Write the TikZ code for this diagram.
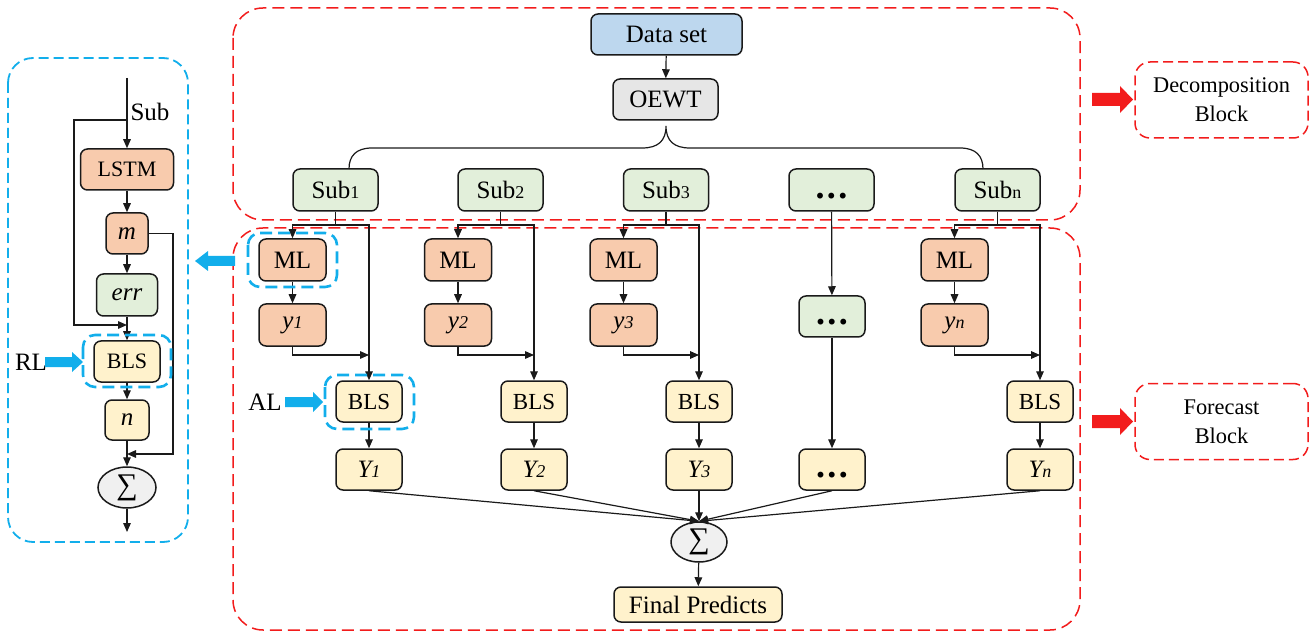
\documentclass[tikz,border=0pt]{standalone}
\usepackage{fontspec}
\setmainfont{LiberationSerif}[Extension=.ttf, UprightFont=*-Regular, ItalicFont=*-Italic, BoldFont=*-Bold, BoldItalicFont=*-BoldItalic]
\usetikzlibrary{arrows.meta,shapes.geometric}
\definecolor{cOr}{HTML}{F8CBAD}
\definecolor{cGreen}{HTML}{E2EFDA}
\definecolor{cYel}{HTML}{FFF2CC}
\definecolor{cBlue}{HTML}{BDD7EE}
\definecolor{cGray}{HTML}{E6E6E6}
\definecolor{cSum}{HTML}{F0F0F0}
\definecolor{cRed}{HTML}{F21C1C}
\definecolor{cCyan}{HTML}{12AEEB}
\definecolor{cLine}{HTML}{1A1A1A}
\newcommand\myfs[1]{\fontsize{#1}{#1}\selectfont}
\newcommand\sbs[1]{{\fontsize{9}{9}\selectfont #1}}
\newcommand\bdots{{\vphantom{Sub}\myfs{18}\bfseries .\hspace{1.2pt}.\hspace{1.2pt}.}}
\begin{document}
\begin{tikzpicture}[x=0.5pt,y=-0.5pt,
  box/.style={draw=cLine, line width=0.75pt, rounded corners=3.5pt, inner sep=0pt, align=center, font=\myfs{12.5}},
  subbox/.style={box, fill=cGreen, minimum width=42.5pt, minimum height=21pt},
  mlbox/.style={box, fill=cOr, minimum width=33.5pt, minimum height=21pt},
  blsbox/.style={box, fill=cYel, minimum width=33pt, minimum height=20.5pt, font=\myfs{11.5}},
  ybox/.style={box, fill=cYel, minimum width=33pt, minimum height=20.5pt},
  sumnode/.style={ellipse, draw=cLine, line width=0.75pt, fill=cSum, inner sep=0pt, font=\myfs{15}},
  conn/.style={draw=cLine, line width=0.6pt},
  arr/.style={conn, -{Triangle[length=4.5pt,width=3.8pt]}},
  reddash/.style={draw=cRed, line width=0.75pt, dash pattern=on 6pt off 3pt},
  bluedash/.style={draw=cCyan, line width=1.3pt, dash pattern=on 6pt off 3pt},
  lblbox/.style={draw=cRed, line width=0.75pt, dash pattern=on 5pt off 2.5pt, rounded corners=7.5pt, align=center, inner sep=0pt, minimum width=86.5pt, minimum height=38pt, font=\fontsize{11.2}{14.5}\selectfont},
  plain/.style={inner sep=0pt, font=\myfs{12.5}}
]
\useasboundingbox (0,0) rectangle (1312,636);

% ---------- frames ----------
\draw[reddash, rounded corners=15pt] (233,8) rectangle (1080,220);
\draw[reddash, rounded corners=15pt] (233,228) rectangle (1080,630);
\draw[draw=cCyan, line width=0.9pt, dash pattern=on 5pt off 2.5pt, rounded corners=12.5pt] (8,58) rectangle (188,542);

% ---------- decomposition block ----------
\node[box, fill=cBlue, minimum width=75.5pt, minimum height=20.5pt] (data) at (666.5,34.5) {Data set};
\node[box, fill=cGray, minimum width=52.5pt, minimum height=20.5pt] (oewt) at (665.5,99.5) {OEWT};
\draw[arr] (data) -- (oewt);

\node[subbox] (s1) at (335.5,190) {Sub\sbs{1}};
\node[subbox] (s2) at (500.5,190) {Sub\sbs{2}};
\node[subbox] (s3) at (666,190) {Sub\sbs{3}};
\node[subbox] (s4) at (831.5,190) {\bdots};
\node[subbox] (s5) at (997.5,190) {Sub\sbs{n}};

% brace
\coordinate (brL) at (349,169);
\coordinate (brT) at (666,126);
\coordinate (brR) at (983,169);
\draw[conn] (brL) .. controls (349,156) and (356,148) .. (372,148) -- (642,148)
  .. controls (658,148) and (666,141) .. (brT)
  .. controls (666,141) and (674,148) .. (690,148) -- (960,148)
  .. controls (976,148) and (983,156) .. (brR);

% ---------- forecast block ----------
\node[mlbox] (ml1) at (292.5,260) {ML};
\node[mlbox] (ml2) at (458,260) {ML};
\node[mlbox] (ml3) at (623.5,260) {ML};
\node[mlbox] (ml5) at (954.5,260) {ML};

\node[mlbox] (y1) at (292.5,325) {\textit{y\sbs{1}}};
\node[mlbox] (y2) at (458,325) {\textit{y\sbs{2}}};
\node[mlbox] (y3) at (623.5,325) {\textit{y\sbs{3}}};
\node[mlbox] (y5) at (954.5,325) {\textit{y\sbs{n}}};

\node[box, fill=cGreen, minimum width=33pt, minimum height=20.5pt] (dm) at (832,316.5) {\bdots};

\node[blsbox] (b1) at (369,401.5) {BLS};
\node[blsbox] (b2) at (534,401.5) {BLS};
\node[blsbox] (b3) at (699,401.5) {BLS};
\node[blsbox] (b5) at (1040,401.5) {BLS};

\node[ybox] (Y1) at (369,469.5) {\textit{Y\sbs{1}}};
\node[ybox] (Y2) at (534,469.5) {\textit{Y\sbs{2}}};
\node[ybox] (Y3) at (699,469.5) {\textit{Y\sbs{3}}};
\node[ybox] (Y4) at (832,469.5) {\bdots};
\node[ybox] (Y5) at (1040,469.5) {\textit{Y\sbs{n}}};

\node[sumnode, minimum width=28pt, minimum height=20pt] (sum) at (699,542) {∑};
\node[box, fill=cYel, minimum width=84pt, minimum height=17.5pt] (final) at (698,604.5) {Final Predicts};

% branches from Sub nodes
\foreach \i in {1,2,3,5}{
  \coordinate (k\i) at (s\i.south |- 0,225);
  \draw[conn] (s\i.south) -- (k\i);
  \draw[arr] (k\i) -| (ml\i.north);
  \draw[arr] (k\i) -| (b\i.north);
  \draw[arr] (ml\i) -- (y\i);
  \draw[arr] (y\i.south) |- (b\i.north |- 0,355);
  \draw[arr] (b\i) -- (Y\i);
}
\draw[arr] (s4) -- (dm);
\draw[arr] (dm) -- (Y4);
\foreach \i in {1,2,3,4,5}{
  \draw[arr] (Y\i.south) -- (sum.north);
}
\draw[arr] (sum) -- (final);

% highlights
\draw[bluedash, rounded corners=6pt] (248,233) rectangle (337,287);
\draw[bluedash, rounded corners=6pt] (325,375) rectangle (414,429);
\node[plain] (al) at (265,402) {AL};
\fill[cCyan] (285,397) -- (313,397) -- (313,392) -- (323,402) -- (313,412) -- (313,407) -- (285,407) -- cycle;

% ---------- left panel ----------
\node[box, fill=cOr, minimum width=46.5pt, minimum height=20.5pt, font=\myfs{11}] (lstm) at (127,169.5) {LSTM};
\node[box, fill=cOr, minimum width=21pt, minimum height=20.5pt] (m) at (127,233.5) {\textit{m}};
\node[box, fill=cGreen, minimum width=30.5pt, minimum height=21pt] (err) at (127,295) {\textit{err}};
\node[box, fill=cYel, minimum width=33pt, minimum height=20.5pt, font=\myfs{11}] (bl) at (127,361.5) {BLS};
\node[box, fill=cYel, minimum width=22pt, minimum height=20pt] (n) at (127,420) {\textit{n}};
\node[sumnode, minimum width=29pt, minimum height=20.5pt] (suml) at (127,487.5) {∑};
\node[plain] (sublbl) at (150,112) {Sub};

\coordinate (ltop) at (127,78);
\coordinate (lbr) at (127,120);
\coordinate (lout) at (127,532);
\draw[arr] (ltop) -- (lstm.north);
\draw[arr] (lbr) -- (74,120) -- (74,325) -- (err.south |- 0,325);
\draw[arr] (lstm) -- (m);
\draw[arr] (m) -- (err);
\draw[arr] (err) -- (bl);
\draw[arr] (bl) -- (n);
\draw[arr] (n) -- (suml);
\draw[arr] (m.east) -- (173,233.5) -- (173,454) -- (n.south |- 0,454);
\draw[arr] (suml) -- (lout);

\draw[bluedash, rounded corners=6pt] (83,335) rectangle (171,387);
\node[plain] (rl) at (31,362) {RL};
\fill[cCyan] (45,357) -- (72,357) -- (72,352) -- (83,362) -- (72,372) -- (72,367) -- (45,367) -- cycle;

% arrow between panels
\fill[cCyan] (235,256) -- (208,256) -- (208,251) -- (195,261) -- (208,271) -- (208,266) -- (235,266) -- cycle;

% ---------- right labels ----------
\node[lblbox] (decl) at (1221.5,100) {Decomposition\\Block};
\node[lblbox] (forl) at (1221.5,421.5) {Forecast\\Block};
\fill[cRed] (1092,93) -- (1120,93) -- (1120,86) -- (1133,99.5) -- (1120,113) -- (1120,106) -- (1092,106) -- cycle;
\fill[cRed] (1092,415) -- (1120,415) -- (1120,408) -- (1133,421.5) -- (1120,435) -- (1120,428) -- (1092,428) -- cycle;
\end{tikzpicture}
\end{document}
